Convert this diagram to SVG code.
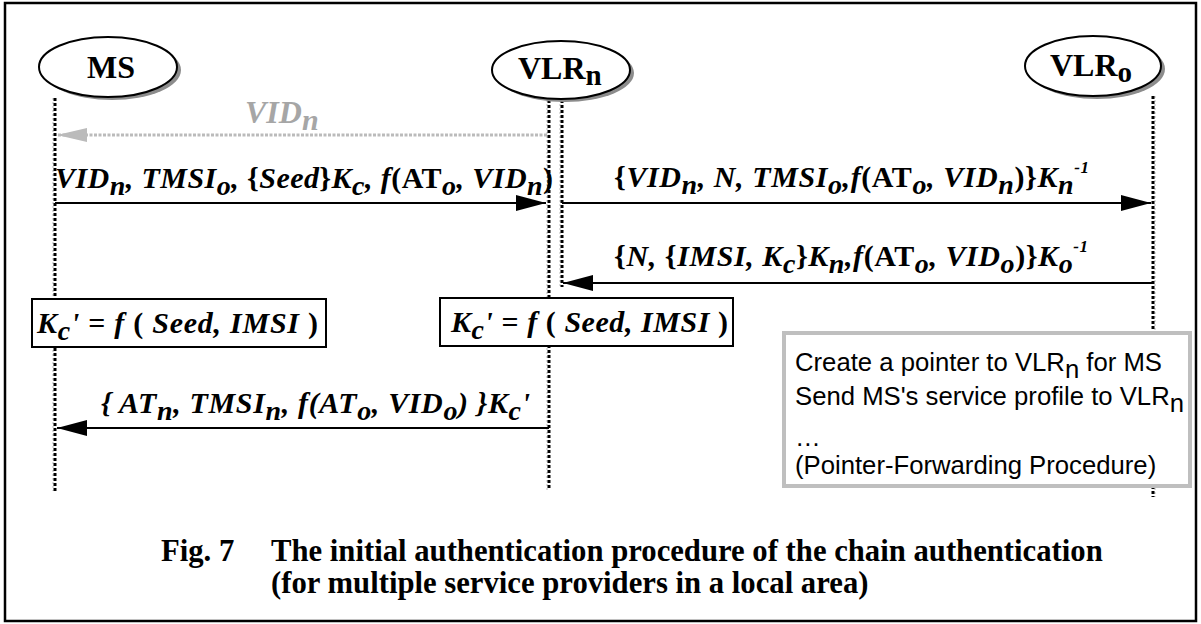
<svg xmlns="http://www.w3.org/2000/svg" width="1201" height="624" viewBox="0 0 1201 624">
<style>
.frame{fill:#fff;stroke:#000;stroke-width:2.5}
.node{fill:#fff;stroke:#000;stroke-width:2}
.shadow{fill:#8c8c8c}
.ntext{font-family:"Liberation Serif",serif;font-weight:bold;font-size:32px;fill:#000}
.life{fill:none;stroke:#000;stroke-width:3;stroke-dasharray:3 2}
.lifeg{fill:none;stroke:#bbb;stroke-width:1;stroke-dasharray:2 2}
.msg{fill:none;stroke:#000;stroke-width:2}
.msgg{fill:none;stroke:#bbb;stroke-width:3;stroke-dasharray:3 1.5}
.lbl{font-family:"Liberation Serif",serif;font-weight:bold;font-style:italic;font-size:30px;fill:#000}
.up{font-style:normal}
.sub{font-size:28px}
.sup{font-size:17px}
.box{fill:#fff;stroke:#000;stroke-width:2}
.gbox{fill:#fff;stroke:#bfbfbf;stroke-width:4}
.note{font-family:"Liberation Sans",Arial,sans-serif;font-size:25.7px;fill:#000}
.cap{font-family:"Liberation Serif",serif;font-weight:bold;font-size:30.7px;fill:#000}
</style>
<defs>
<marker id="ah" viewBox="0 0 30 16" refX="30" refY="8" markerWidth="30" markerHeight="16" markerUnits="userSpaceOnUse" orient="auto">
<path d="M0,0 L30,8 L0,16 Z" fill="#000"/>
</marker>
<marker id="ahg" viewBox="0 0 30 16" refX="30" refY="8" markerWidth="30" markerHeight="16" markerUnits="userSpaceOnUse" orient="auto">
<path d="M0,1 L30,8 L0,15 Z" fill="#bbb"/>
</marker>
</defs>
<rect class="frame" x="5" y="3" width="1191" height="618"/>

<g id="lifelines">
<line class="lifeg" x1="53" y1="98" x2="53" y2="491"/>
<line class="life" x1="55" y1="98" x2="55" y2="491"/>
<line class="lifeg" x1="547" y1="100" x2="547" y2="490"/>
<line class="life" x1="549" y1="100" x2="549" y2="490"/>
<line class="lifeg" x1="560" y1="100" x2="560" y2="287"/>
<line class="life" x1="562" y1="100" x2="562" y2="287"/>
<line class="lifeg" x1="1155" y1="96" x2="1155" y2="497"/>
<line class="life" x1="1153" y1="96" x2="1153" y2="497"/>
</g>

<g id="node-ms">
<ellipse class="shadow" cx="112" cy="70" rx="69" ry="30"/>
<ellipse class="node" cx="108" cy="67" rx="69" ry="30"/>
<text class="ntext" x="111" y="78" text-anchor="middle">MS</text>
</g>
<g id="node-vlrn">
<ellipse class="shadow" cx="565" cy="73" rx="69" ry="29"/>
<ellipse class="node" cx="561" cy="70" rx="69" ry="29"/>
<text class="ntext" x="518" y="79">VLR<tspan font-size="29" dy="6">n</tspan></text>
</g>
<g id="node-vlro">
<ellipse class="shadow" cx="1097" cy="69" rx="68" ry="30"/>
<ellipse class="node" cx="1093" cy="66" rx="68" ry="30"/>
<text class="ntext" x="1050" y="76">VLR<tspan font-size="29" dy="6">o</tspan></text>
</g>

<g id="connectors">
<line class="msgg" x1="547" y1="135" x2="57" y2="135" marker-end="url(#ahg)"/>
<line class="msg" x1="55" y1="203" x2="546" y2="203" marker-end="url(#ah)"/>
<line class="msg" x1="562" y1="203" x2="1151" y2="203" marker-end="url(#ah)"/>
<line class="msg" x1="1153" y1="283" x2="563" y2="283" marker-end="url(#ah)"/>
<line class="msg" x1="549" y1="428" x2="57" y2="428" marker-end="url(#ah)"/>
</g>

<g id="labels">
<text class="lbl" x="245" y="123" style="fill:#a6a6a6;font-size:32px">VID<tspan style="font-size:30px" dy="7">n</tspan></text>
<text class="lbl" x="55" y="188" textLength="498">VID<tspan class="sub" dy="7">n</tspan><tspan dy="-7">, TMSI</tspan><tspan class="sub" dy="7">o</tspan><tspan dy="-7">, </tspan><tspan class="up">{</tspan>Seed<tspan class="up">}</tspan>K<tspan class="sub" dy="7">c</tspan><tspan dy="-7">, f</tspan><tspan class="up">(AT</tspan><tspan class="sub" dy="7">o</tspan><tspan dy="-7">, VID</tspan><tspan class="sub" dy="7">n</tspan><tspan class="up" dy="-7">)</tspan></text>
<text class="lbl" x="614" y="187" textLength="475"><tspan class="up">{</tspan>VID<tspan class="sub" dy="7">n</tspan><tspan dy="-7">, N, TMSI</tspan><tspan class="sub" dy="7">o</tspan><tspan dy="-7">,f</tspan><tspan class="up">(AT</tspan><tspan class="sub" dy="7">o</tspan><tspan dy="-7">, VID</tspan><tspan class="sub" dy="7">n</tspan><tspan class="up" dy="-7">)}</tspan>K<tspan class="sub" dy="7">n</tspan><tspan class="sup" dy="-21">-1</tspan></text>
<text class="lbl" x="614" y="266" textLength="474"><tspan class="up">{</tspan>N, <tspan class="up">{</tspan>IMSI, K<tspan class="sub" dy="7">c</tspan><tspan class="up" dy="-7">}</tspan>K<tspan class="sub" dy="7">n</tspan><tspan dy="-7">,f</tspan><tspan class="up">(AT</tspan><tspan class="sub" dy="7">o</tspan><tspan dy="-7">, VID</tspan><tspan class="sub" dy="7">o</tspan><tspan class="up" dy="-7">)}</tspan>K<tspan class="sub" dy="7">o</tspan><tspan class="sup" dy="-21">-1</tspan></text>
<text class="lbl" x="101" y="413" textLength="429">{ AT<tspan class="sub" dy="7">n</tspan><tspan dy="-7">, TMSI</tspan><tspan class="sub" dy="7">n</tspan><tspan dy="-7">, f(AT</tspan><tspan class="sub" dy="7">o</tspan><tspan dy="-7">, VID</tspan><tspan class="sub" dy="7">o</tspan><tspan dy="-7">) }K</tspan><tspan class="sub" dy="7">c</tspan><tspan dy="-7">'</tspan></text>
</g>

<g id="note-ms">
<rect class="box" x="32" y="299" width="294" height="48"/>
<text class="lbl" x="37" y="333" textLength="281">K<tspan class="sub" dy="7">c</tspan><tspan dy="-7">' </tspan><tspan class="up">=</tspan> f <tspan class="up">(</tspan> Seed, IMSI <tspan class="up">)</tspan></text>
</g>
<g id="note-vlrn">
<rect class="box" x="440" y="298" width="293" height="48"/>
<text class="lbl" x="451" y="332" textLength="277">K<tspan class="sub" dy="7">c</tspan><tspan dy="-7">' </tspan><tspan class="up">=</tspan> f <tspan class="up">(</tspan> Seed, IMSI <tspan class="up">)</tspan></text>
</g>
<g id="note-pointer">
<rect class="gbox" x="784" y="333" width="406" height="153"/>
<text class="note" x="795" y="371">Create a pointer to VLR<tspan dy="7">n</tspan><tspan dy="-7"> for MS</tspan></text>
<text class="note" x="795" y="405">Send MS's service profile to VLR<tspan dy="7">n</tspan></text>
<text class="note" x="795" y="446">…</text>
<text class="note" x="795" y="474">(Pointer-Forwarding Procedure)</text>
</g>

<g id="caption">
<text class="cap" x="161" y="561">Fig. 7</text>
<text class="cap" x="271" y="561">The initial authentication procedure of the chain authentication</text>
<text class="cap" x="271" y="593">(for multiple service providers in a local area)</text>
</g>
</svg>
